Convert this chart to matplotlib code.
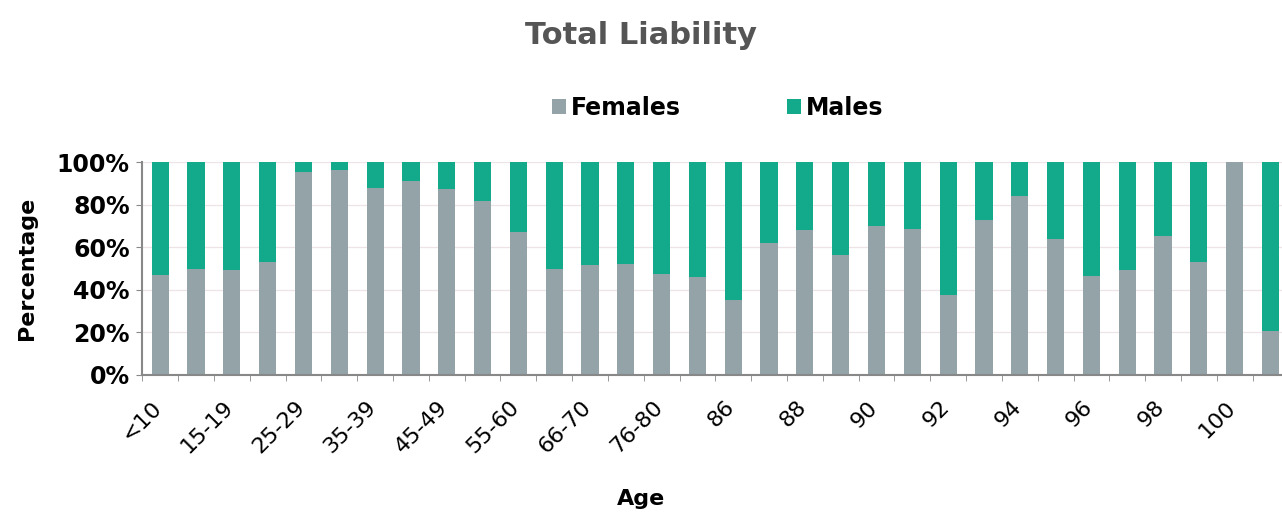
import matplotlib.pyplot as plt
import matplotlib.transforms as mtransforms
import numpy as np

ages = ['<10', '10-14', '15-19', '20-24', '25-29', '30-34', '35-39', '40-44',
        '45-49', '50-54', '55-60', '61-65', '66-70', '71-75', '76-80', '81-85',
        '86', '87', '88', '89', '90', '91', '92', '93', '94', '95', '96', '97',
        '98', '99', '100', '101+']
females = [47, 50, 49.5, 53, 95.5, 96.5, 88, 91, 87.5, 82, 67, 50, 51.5, 52,
           47.5, 46, 35, 62, 68, 56.5, 70, 68.5, 37.5, 73, 84, 64, 46.5, 49.5,
           65.5, 53, 100, 20.5]
males = [100 - f for f in females]

GREY = '#93a3a8'
GREEN = '#12aa8b'

fig = plt.figure(figsize=(12.82, 5.15), dpi=100)
ax = fig.add_axes([0.111, 0.272, 0.894, 0.413])

x = np.arange(len(ages))
ax.bar(x, females, width=0.48, color=GREY, label='Females', zorder=2)
ax.bar(x, males, width=0.48, bottom=females, color=GREEN, label='Males', zorder=2)

ax.set_xlim(-0.5, len(ages) - 0.5)
ax.set_ylim(0, 100)
ax.set_yticks(range(0, 101, 20))
ax.set_yticklabels(['%d%%' % v for v in range(0, 101, 20)],
                   fontsize=17, fontweight='bold')
ax.yaxis.grid(True, color='#eee3e6', linewidth=0.9, zorder=0)

ax.set_xticks(x[::2])
ax.set_xticklabels(ages[::2], rotation=45, ha='right', rotation_mode='anchor',
                   fontsize=16)
ax.set_xticks(np.arange(-0.5, len(ages), 1), minor=True)
ax.tick_params(axis='x', which='major', length=0, pad=16)
ax.tick_params(axis='x', which='minor', length=4, color='#888888')
ax.tick_params(axis='y', length=4, color='#888888', pad=5)

# nudge the rotated labels so their ends sit under the bar centres
shift = mtransforms.ScaledTranslation(-9 / 100, 0, fig.dpi_scale_trans)
for lab in ax.get_xticklabels():
    lab.set_transform(lab.get_transform() + shift)

for s in ['top', 'right']:
    ax.spines[s].set_visible(False)
for s in ['left', 'bottom']:
    ax.spines[s].set_color('#888888')
    ax.spines[s].set_linewidth(1.5)

ax.set_ylabel('Percentage', fontsize=16, fontweight='bold', labelpad=14)
fig.text(0.5, 0.02, 'Age', ha='center', fontsize=16, fontweight='bold')
fig.text(0.5, 0.915, 'Total Liability', ha='center', fontsize=22,
         fontweight='bold', color='#555555')

fig.legend(loc='center', bbox_to_anchor=(0.56, 0.79), ncol=2, frameon=False,
           prop={'weight': 'bold', 'size': 17},
           handlelength=0.6, handleheight=0.6, handletextpad=0.2,
           columnspacing=4.5)

fig.savefig('out.png', dpi=100)
